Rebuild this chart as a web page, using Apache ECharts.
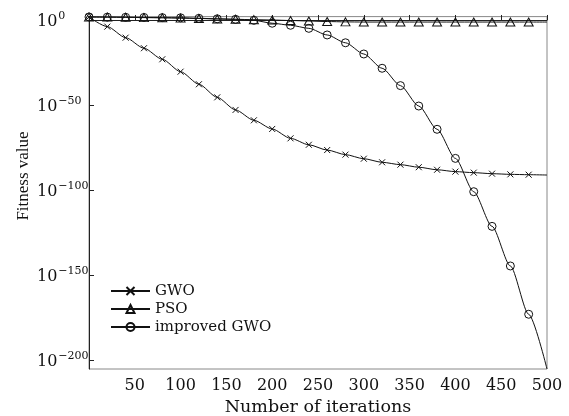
<!DOCTYPE html>
<html><head><meta charset="utf-8">
<script src="https://cdn.jsdelivr.net/npm/echarts@6/dist/echarts.min.js"></script>
<style>html,body{margin:0;padding:0;background:#fff}#c{width:569px;height:416px}</style>
</head><body><div id="c"></div>
<script>
// iterations at which values were read (markers every 20 iterations, line ends at 500)
const iterations = [0,20,40,60,80,100,120,140,160,180,200,220,240,260,280,300,320,340,360,380,400,420,440,460,480,500];
// values are log10(fitness)
const gwoLog10 = [1.8,-3.9,-10.4,-16.6,-23.1,-30.4,-37.8,-45.5,-52.9,-59.0,-64.1,-69.6,-73.4,-76.5,-79.2,-81.6,-83.7,-85.1,-86.6,-88.1,-89.2,-89.8,-90.4,-90.8,-91.0,-91.2];
const psoLog10 = [1.8,1.7,1.6,1.4,1.3,1.1,0.9,0.6,0.4,0.2,0.0,-0.3,-0.6,-0.9,-1.1,-1.2,-1.2,-1.2,-1.2,-1.2,-1.2,-1.2,-1.2,-1.2,-1.2,-1.2];
const improvedGwoLog10 = [1.8,1.7,1.6,1.5,1.4,1.3,1.0,0.7,0.4,-0.2,-1.9,-3.1,-4.9,-8.8,-13.4,-20.0,-28.4,-38.6,-50.6,-64.3,-81.4,-101.0,-121.4,-144.7,-173.1,-205.3];
const seriesNames = ['GWO','PSO','improved GWO'];
const xTickValues = [50,100,150,200,250,300,350,400,450,500];
const yTickExponents = [0,-50,-100,-150,-200];
const xName = 'Number of iterations';
const yName = 'Fitness value';

const FONT = 'DejaVu Serif';
const INK = '#111';
const crossPath = 'path://M0,0L10,10M10,0L0,10';

function pairs(vals){
  return iterations.map((it,i)=>{
    const p = {value:[it, vals[i]]};
    if (it === 500) p.symbol = 'none';
    return p;
  });
}
function mkSeries(name, vals, symbol, size){
  return {
    name, type:'line', data: pairs(vals), symbol, symbolSize: size,
    showAllSymbol: true, smooth: 0.25, smoothMonotone: 'x',
    lineStyle:{color:INK, width:1},
    itemStyle:{color:'none', borderColor:INK, borderWidth:1},
    emphasis:{disabled:true}, animation:false, z: 3
  };
}
const chart = echarts.init(document.getElementById('c'), null, {renderer:'canvas'});
chart.setOption({
  backgroundColor:'#fff',
  animation:false,
  grid:{left:89, right:22, top:16.6, bottom:47, show:true, borderColor:'#888', borderWidth:1,
        containLabel:false, outerBoundsMode:'none'},
  legend:{
    orient:'vertical', left:105, top:277, padding:5, itemWidth:39, itemHeight:10, itemGap:0,
    textStyle:{fontFamily:FONT, fontSize:15, color:INK, lineHeight:18},
    data: seriesNames
  },
  graphic:[{
    type:'text', x:23.5, y:176, rotation:Math.PI/2, silent:true,
    style:{text:yName, fontFamily:'Liberation Serif', fontSize:17, fill:INK, align:'center', verticalAlign:'middle'}
  }],
  xAxis:{
    type:'value', min:0, max:500,
    name:xName, nameLocation:'middle', nameGap:28,
    nameTextStyle:{fontFamily:FONT, fontSize:17.5, color:INK},
    axisLine:{lineStyle:{color:'#222', width:1}},
    axisTick:{inside:true, length:5, customValues:xTickValues, lineStyle:{color:'#222'}},
    axisLabel:{customValues:xTickValues, margin:9, fontFamily:FONT, fontSize:16, color:INK},
    splitLine:{show:false}
  },
  yAxis:{
    type:'value', min:-205.3, max:2,
    axisLine:{show:true, lineStyle:{color:'#222', width:1}},
    axisTick:{show:true, inside:true, length:5, customValues:yTickExponents, lineStyle:{color:'#222'}},
    axisLabel:{
      customValues:yTickExponents, align:'left', margin:52,
      formatter:v=>'{b|10}{s|'+(v===0?'0':'\u2212'+(-v))+'}',
      rich:{
        b:{fontFamily:FONT, fontSize:16, color:INK, lineHeight:18, padding:[4,0,0,0]},
        s:{fontFamily:FONT, fontSize:11, color:INK, lineHeight:11, verticalAlign:'top', padding:[0,0,0,1]}
      }
    },
    splitLine:{show:false}
  },
  series:[
    mkSeries(seriesNames[0], gwoLog10, crossPath, 6),
    mkSeries(seriesNames[1], psoLog10, 'triangle', [9,8]),
    mkSeries(seriesNames[2], improvedGwoLog10, 'circle', 8)
  ]
});
</script></body></html>
